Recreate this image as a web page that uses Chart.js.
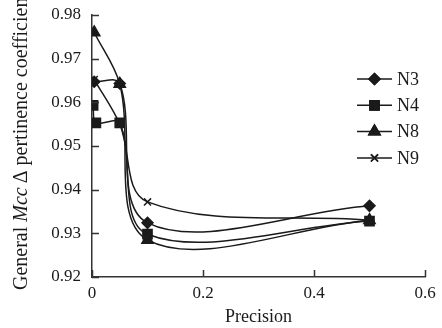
<!DOCTYPE html>
<html>
<head>
<meta charset="utf-8">
<script src="https://cdn.jsdelivr.net/npm/chart.js@4"></script>
<style>
html, body { margin: 0; padding: 0; background: #fff; }
#wrap { width: 442px; height: 328px; position: relative; }
</style>
</head>
<body>
<div id="wrap"><canvas id="chart"></canvas></div>
<script>
const seriesNames = ['N3', 'N4', 'N8', 'N9'];
const n3X = [0.004, 0.05, 0.1, 0.5];
const n3Y = [0.9647, 0.9643, 0.9324, 0.9363];
const n4X = [0.002, 0.007, 0.05, 0.1, 0.5];
const n4Y = [0.9593, 0.9553, 0.9553, 0.9298, 0.9328];
const n8X = [0.004, 0.05, 0.1, 0.5];
const n8Y = [0.9760, 0.9642, 0.9285, 0.9330];
const n9X = [0.004, 0.05, 0.1, 0.5];
const n9Y = [0.9652, 0.9550, 0.9372, 0.9330];
const xTicks = [0, 0.2, 0.4, 0.6];
const yTicks = [0.92, 0.93, 0.94, 0.95, 0.96, 0.97, 0.98];

const INK = '#1a1a1a';
const SERIF = '"Liberation Serif", "Times New Roman", serif';

const pts = (xs, ys) => xs.map((x, i) => ({ x: x, y: ys[i] }));
const markers = [
    { pointStyle: 'rectRot', pointRadius: 5.5 },
    { pointStyle: 'rect', pointRadius: 6.5 },
    { pointStyle: 'triangle', pointRadius: 6.5 },
    { pointStyle: 'crossRot', pointRadius: 5 }
];
const allX = [n3X, n4X, n8X, n9X];
const allY = [n3Y, n4Y, n8Y, n9Y];

const datasets = seriesNames.map((name, i) => ({
    label: name,
    data: pts(allX[i], allY[i]),
    borderColor: INK,
    backgroundColor: INK,
    borderWidth: 1.5,
    pointBorderColor: INK,
    pointBackgroundColor: INK,
    pointBorderWidth: 1.5,
    pointStyle: markers[i].pointStyle,
    pointRadius: markers[i].pointRadius,
    tension: 0.35,
    fill: false
}));

// ticks point into the plot
const innerTicks = {
    id: 'innerTicks',
    afterDraw(chart) {
        const { ctx, chartArea, scales } = chart;
        ctx.save();
        ctx.strokeStyle = '#333';
        ctx.lineWidth = 1.5;
        ctx.beginPath();
        yTicks.forEach(v => {
            const py = Math.round(scales.y.getPixelForValue(v)) + 0.5;
            ctx.moveTo(chartArea.left, py);
            ctx.lineTo(chartArea.left + 7, py);
        });
        xTicks.forEach(v => {
            const px = Math.round(scales.x.getPixelForValue(v)) + 0.5;
            ctx.moveTo(px, chartArea.bottom);
            ctx.lineTo(px, chartArea.bottom - 7);
        });
        ctx.stroke();
        ctx.restore();
    }
};

const yTitle = {
    id: 'yTitle',
    afterDraw(chart) {
        const ctx = chart.ctx;
        const parts = [['General ', false], ['Mcc', true], ['\u2009\u0394 pertinence coefficient', false]];
        ctx.save();
        ctx.translate(27, 290);
        ctx.rotate(-Math.PI / 2);
        ctx.fillStyle = INK;
        ctx.textBaseline = 'alphabetic';
        let pos = 0;
        parts.forEach(([t, it]) => {
            ctx.font = (it ? 'italic ' : '') + '20px ' + SERIF;
            ctx.fillText(t, pos, 0);
            pos += ctx.measureText(t).width;
        });
        ctx.restore();
    }
};

const sideLegend = {
    id: 'sideLegend',
    afterDraw(chart) {
        const ctx = chart.ctx;
        ctx.save();
        chart.data.datasets.forEach((ds, i) => {
            const y = 79 + 26.3 * i;
            ctx.strokeStyle = INK;
            ctx.lineWidth = 1.5;
            ctx.beginPath();
            ctx.moveTo(357, y);
            ctx.lineTo(392, y);
            ctx.stroke();
            ctx.fillStyle = INK;
            Chart.helpers.drawPoint(ctx, {
                pointStyle: ds.pointStyle,
                radius: ds.pointRadius,
                borderWidth: 1.5,
                rotation: 0
            }, 374.5, y);
            ctx.fill();
            ctx.stroke();
            ctx.font = '18px ' + SERIF;
            ctx.textBaseline = 'middle';
            ctx.fillText(ds.label, 397, y + 1);
        });
        ctx.restore();
    }
};

new Chart(document.getElementById('chart'), {
    type: 'line',
    data: { datasets },
    options: {
        responsive: true,
        maintainAspectRatio: false,
        animation: false,
        layout: { padding: { top: 15, right: 17, left: 0, bottom: 0 } },
        plugins: { legend: { display: false }, tooltip: { enabled: false } },
        scales: {
            x: {
                type: 'linear',
                min: 0,
                max: 0.6,
                afterFit: s => { s.height = 51; s.paddingLeft = 0; s.paddingRight = 0; },
                afterBuildTicks: s => { s.ticks = xTicks.map(v => ({ value: v })); },
                grid: { drawOnChartArea: false, drawTicks: false },
                border: { color: '#333', width: 1.5 },
                ticks: {
                    padding: 6,
                    color: INK,
                    font: { family: SERIF, size: 17 },
                    callback: v => String(v)
                },
                title: {
                    display: true,
                    text: 'Precision',
                    color: INK,
                    font: { family: SERIF, size: 18 },
                    padding: { top: 0, bottom: 0 }
                }
            },
            y: {
                min: 0.92,
                max: 0.98,
                afterFit: s => { s.width = 92; s.paddingTop = 0; s.paddingBottom = 0; },
                afterBuildTicks: s => { s.ticks = yTicks.map(v => ({ value: v })); },
                grid: { drawOnChartArea: false, drawTicks: false },
                border: { color: '#333', width: 1.5 },
                ticks: {
                    padding: 11,
                    color: INK,
                    font: { family: SERIF, size: 17 },
                    callback: v => v.toFixed(2)
                }
            }
        }
    },
    plugins: [innerTicks, yTitle, sideLegend]
});
</script>
</body>
</html>
